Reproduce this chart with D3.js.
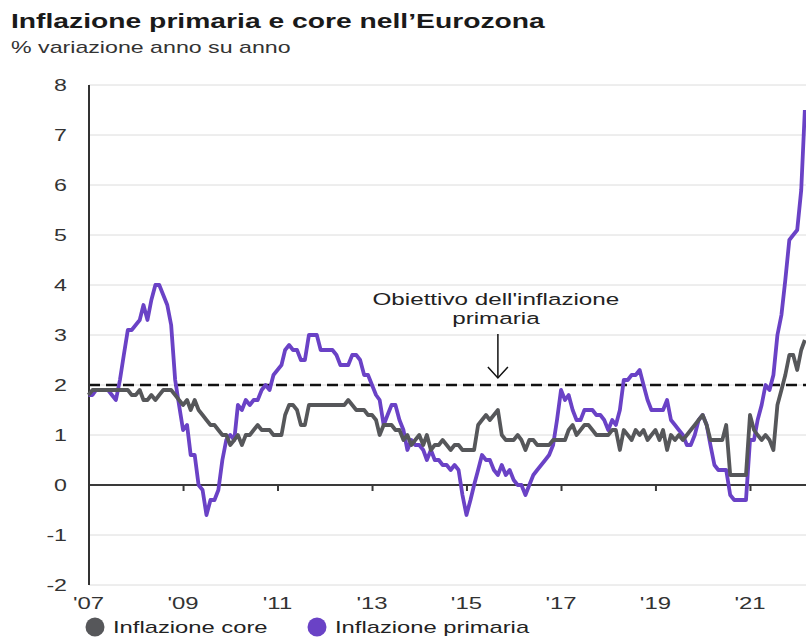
<!DOCTYPE html>
<html>
<head>
<meta charset="utf-8">
<script src="https://cdn.jsdelivr.net/npm/d3@7"></script>
<style>
	body { margin: 0; background: #fff; }
	svg { display: block; font-family: "Liberation Sans", Arial, sans-serif; }
</style>
</head>
<body>
<div id="chart"></div>
<script>

//Monthly values, January 2007 to March 2022 (% y/y)
var firstMonth = new Date(2007, 0, 1)

var headline = [
	1.8, 1.8, 1.9, 1.9, 1.9, 1.9, 1.8, 1.7, 2.1, 2.6, 3.1, 3.1,        //2007
	3.2, 3.3, 3.6, 3.3, 3.7, 4.0, 4.0, 3.8, 3.6, 3.2, 2.1, 1.6,        //2008
	1.1, 1.2, 0.6, 0.6, 0.0, -0.1, -0.6, -0.3, -0.3, -0.1, 0.5, 0.9,   //2009
	1.0, 0.9, 1.6, 1.5, 1.7, 1.6, 1.7, 1.7, 1.9, 2.0, 1.9, 2.2,        //2010
	2.3, 2.4, 2.7, 2.8, 2.7, 2.7, 2.5, 2.5, 3.0, 3.0, 3.0, 2.7,        //2011
	2.7, 2.7, 2.7, 2.6, 2.4, 2.4, 2.4, 2.6, 2.6, 2.5, 2.2, 2.2,        //2012
	2.0, 1.8, 1.7, 1.2, 1.4, 1.6, 1.6, 1.3, 1.1, 0.7, 0.9, 0.8,        //2013
	0.8, 0.7, 0.5, 0.7, 0.5, 0.5, 0.4, 0.4, 0.3, 0.4, 0.3, -0.2,       //2014
	-0.6, -0.3, 0.0, 0.3, 0.6, 0.5, 0.5, 0.3, 0.2, 0.4, 0.2, 0.3,      //2015
	0.1, 0.0, 0.0, -0.2, 0.0, 0.2, 0.3, 0.4, 0.5, 0.6, 0.8, 1.3,       //2016
	1.9, 1.7, 1.8, 1.5, 1.3, 1.3, 1.5, 1.5, 1.5, 1.4, 1.4, 1.3,        //2017
	1.1, 1.3, 1.2, 1.5, 2.1, 2.1, 2.2, 2.2, 2.3, 2.0, 1.7, 1.5,        //2018
	1.5, 1.5, 1.5, 1.7, 1.3, 1.2, 1.1, 1.0, 0.8, 0.8, 1.0, 1.3,        //2019
	1.4, 1.2, 0.8, 0.4, 0.3, 0.3, 0.3, -0.2, -0.3, -0.3, -0.3, -0.3,   //2020
	0.9, 0.9, 1.3, 1.6, 2.0, 1.9, 2.2, 3.0, 3.4, 4.1, 4.9, 5.0,        //2021
	5.1, 5.9, 7.5                                                      //2022
]

var core = [
	1.8, 1.9, 1.9, 1.9, 1.9, 1.9, 1.9, 1.9, 1.9, 1.9, 1.9, 1.8,        //2007
	1.8, 1.9, 1.7, 1.7, 1.8, 1.7, 1.8, 1.9, 1.9, 1.9, 1.8, 1.7,        //2008
	1.6, 1.7, 1.5, 1.7, 1.5, 1.4, 1.3, 1.2, 1.2, 1.1, 1.0, 1.0,        //2009
	0.8, 0.9, 1.0, 0.8, 1.0, 1.0, 1.1, 1.2, 1.1, 1.1, 1.1, 1.0,        //2010
	1.0, 1.0, 1.4, 1.6, 1.6, 1.5, 1.2, 1.2, 1.6, 1.6, 1.6, 1.6,        //2011
	1.6, 1.6, 1.6, 1.6, 1.6, 1.6, 1.7, 1.6, 1.5, 1.5, 1.5, 1.4,        //2012
	1.4, 1.3, 1.0, 1.2, 1.2, 1.2, 1.1, 1.1, 0.9, 1.0, 0.8, 0.9,        //2013
	1.0, 0.8, 1.0, 0.7, 0.8, 0.8, 0.9, 0.8, 0.7, 0.8, 0.8, 0.7,        //2014
	0.7, 0.7, 0.7, 1.2, 1.3, 1.4, 1.3, 1.4, 1.5, 1.0, 0.9, 0.9,        //2015
	0.9, 1.0, 0.9, 0.7, 0.9, 0.9, 0.8, 0.8, 0.8, 0.8, 0.9, 0.9,        //2016
	0.9, 0.9, 1.1, 1.2, 1.0, 1.1, 1.2, 1.2, 1.1, 1.0, 1.0, 1.0,        //2017
	1.0, 1.1, 1.1, 0.7, 1.1, 1.0, 0.9, 1.1, 1.0, 1.1, 0.9, 1.0,        //2018
	1.1, 0.9, 1.1, 0.7, 1.0, 0.9, 1.0, 0.9, 1.0, 1.1, 1.2, 1.3,        //2019
	1.4, 1.2, 0.9, 0.9, 0.9, 0.9, 1.2, 0.2, 0.2, 0.2, 0.2, 0.2,        //2020
	1.4, 1.1, 1.0, 0.9, 1.0, 0.9, 0.7, 1.6, 1.9, 2.2, 2.6, 2.6,        //2021
	2.3, 2.7, 2.9                                                      //2022
]

var yTicks = [-2, -1, 0, 1, 2, 3, 4, 5, 6, 7, 8]
var xTickYears = [2007, 2009, 2011, 2013, 2015, 2017, 2019, 2021]
var seriesNames = ["Inflazione core", "Inflazione primaria"]
var seriesColors = ["#56575a", "#6a42c6"]
var targetValue = 2
var noteLines = ["Obiettivo dell'inflazione", "primaria"]
var noteMonth = new Date(2015, 8, 1)
var chartTitle = "Inflazione primaria e core nell\u2019Eurozona"
var chartSubtitle = "% variazione anno su anno"

drawChart()

function drawChart() {

	///////////////////////////////////////////////////////////////////////////
	//////////////////////////// Set up the svg ///////////////////////////////
	///////////////////////////////////////////////////////////////////////////

	var width = 806
	var height = 639
	var left = 89
	//the reference picture is stretched sideways, so the text is too
	var SX = 1.45

	const svg = d3.select("#chart").append("svg")
		.attr("width", width)
		.attr("height", height)

	var x = d3.scaleTime()
		.domain([new Date(2007, 0, 1), new Date(2021, 0, 1)])
		.range([88.5, 750])

	var y = d3.scaleLinear()
		.domain([-2, 8])
		.range([585, 85])

	function sText(g, str, px, py, size, anchor, weight, fill) {
		return g.append("text")
			.attr("transform", `translate(${px},${py}) scale(${SX},1)`)
			.attr("text-anchor", anchor || "start")
			.style("font-size", size + "px")
			.style("font-weight", weight || "normal")
			.style("fill", fill || "#222")
			.text(str)
	}

	///////////////////////////////////////////////////////////////////////////
	/////////////////////////////// Titles ////////////////////////////////////
	///////////////////////////////////////////////////////////////////////////

	sText(svg, chartTitle, 11, 28, 19.5, "start", "bold", "#1a1a1a")
	sText(svg, chartSubtitle, 11, 53, 16, "start", "normal", "#333")

	///////////////////////////////////////////////////////////////////////////
	//////////////////////////////// Grid /////////////////////////////////////
	///////////////////////////////////////////////////////////////////////////

	svg.append("g").selectAll("line")
		.data(yTicks.filter(d => d !== 0))
		.enter().append("line")
		.attr("x1", left)
		.attr("x2", width)
		.attr("y1", d => y(d))
		.attr("y2", d => y(d))
		.style("stroke", "#dcdcdc")
		.style("stroke-width", 1)

	//y labels
	svg.append("g").selectAll("text")
		.data(yTicks)
		.enter().each(function(d) {
			sText(d3.select(this), d, 67, y(d) + 6, 16, "end", "normal", "#333")
		})

	//x labels
	svg.append("g").selectAll("text")
		.data(xTickYears)
		.enter().each(function(d) {
			sText(d3.select(this), "'" + String(d).slice(2), x(new Date(d, 0, 1)), 609, 16.5, "middle", "normal", "#333")
		})

	//target line
	svg.append("line")
		.attr("x1", left)
		.attr("x2", width)
		.attr("y1", y(targetValue))
		.attr("y2", y(targetValue))
		.style("stroke", "#111")
		.style("stroke-width", 2.6)
		.style("stroke-dasharray", "11,6")

	//zero line with ticks
	svg.append("line")
		.attr("x1", left)
		.attr("x2", width)
		.attr("y1", y(0))
		.attr("y2", y(0))
		.style("stroke", "#3a3a3a")
		.style("stroke-width", 2)

	var xAxis = svg.append("g")
		.attr("transform", `translate(0,${y(0)})`)
		.call(d3.axisBottom(x)
			.tickValues(xTickYears.slice(1).map(d => new Date(d, 0, 1)))
			.tickSize(6)
			.tickFormat(""))
	xAxis.select(".domain").remove()
	xAxis.selectAll("line").style("stroke", "#3a3a3a").style("stroke-width", 2)

	//y axis line
	svg.append("line")
		.attr("x1", left)
		.attr("x2", left)
		.attr("y1", y(8))
		.attr("y2", y(-2))
		.style("stroke", "#333")
		.style("stroke-width", 2)

	///////////////////////////////////////////////////////////////////////////
	//////////////////////////////// Lines ////////////////////////////////////
	///////////////////////////////////////////////////////////////////////////

	var line = d3.line()
		.x((d, i) => x(d3.timeMonth.offset(firstMonth, i)))
		.y(d => y(d))

	//primary below, core on top
	svg.append("path")
		.datum(headline)
		.attr("d", line)
		.style("fill", "none")
		.style("stroke", seriesColors[1])
		.style("stroke-width", 3.8)
		.style("stroke-linejoin", "round")

	svg.append("path")
		.datum(core)
		.attr("d", line)
		.style("fill", "none")
		.style("stroke", seriesColors[0])
		.style("stroke-width", 3.8)
		.style("stroke-linejoin", "round")

	///////////////////////////////////////////////////////////////////////////
	////////////////////////////// Annotation /////////////////////////////////
	///////////////////////////////////////////////////////////////////////////

	var nx = x(noteMonth)
	sText(svg, noteLines[0], nx - 2, 305, 16.7, "middle", "normal", "#222")
	sText(svg, noteLines[1], nx - 2, 324, 16.7, "middle", "normal", "#222")

	svg.append("line")
		.attr("x1", nx).attr("x2", nx)
		.attr("y1", 334).attr("y2", y(targetValue) - 7)
		.style("stroke", "#111")
		.style("stroke-width", 1.5)
	svg.append("path")
		.attr("d", `M${nx - 10},${y(targetValue) - 18} L${nx},${y(targetValue) - 7} L${nx + 10},${y(targetValue) - 18}`)
		.style("fill", "none")
		.style("stroke", "#111")
		.style("stroke-width", 1.5)

	///////////////////////////////////////////////////////////////////////////
	//////////////////////////////// Legend ///////////////////////////////////
	///////////////////////////////////////////////////////////////////////////

	var legendX = [95, 317]
	seriesNames.forEach(function(name, i) {
		svg.append("circle")
			.attr("cx", legendX[i])
			.attr("cy", 627)
			.attr("r", 9.5)
			.style("fill", seriesColors[i])
		sText(svg, name, legendX[i] + 18, 633, 16.4, "start", "normal", "#222")
	})

}//function drawChart
</script>
</body>
</html>
